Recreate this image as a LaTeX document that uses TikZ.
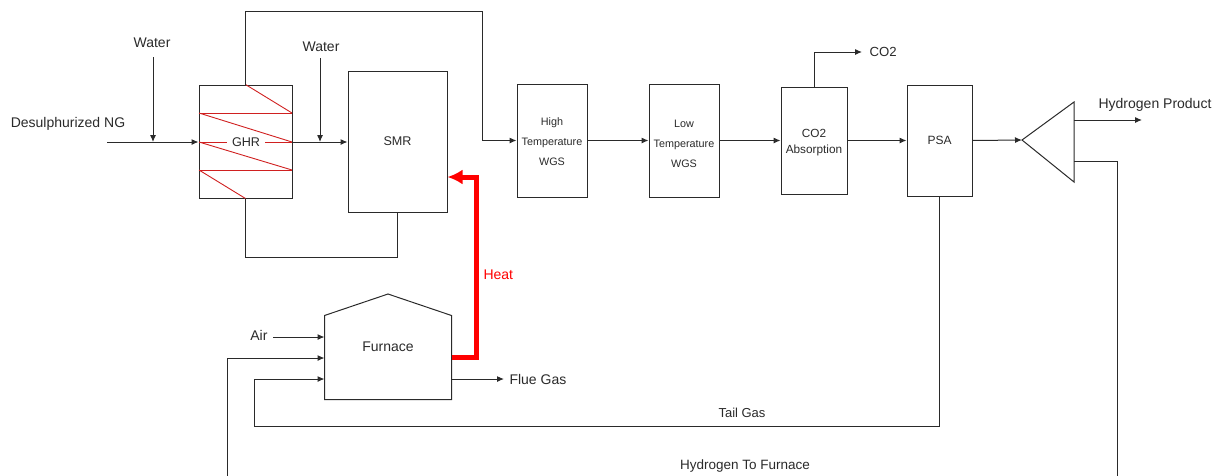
\documentclass[tikz,border=0pt]{standalone}
\usepackage{fontspec}
\setmainfont{Liberation Sans}
\usetikzlibrary{arrows.meta}
\definecolor{ink}{HTML}{2A2A2A}
\definecolor{coil}{HTML}{D02020}
\definecolor{heatred}{HTML}{FF0000}
\begin{document}
\begin{tikzpicture}[x=1pt,y=-1pt,
  line width=1pt,
  unitbox/.style={draw=ink, line width=1pt, inner sep=0pt},
  flow/.style={draw=ink, line width=1pt, -{Latex[length=7pt,width=6pt]}},
  plain/.style={draw=ink, line width=1pt},
  lbl/.style={inner sep=0pt, text=ink, font=\fontsize{14}{16}\selectfont},
  unitlbl/.style={inner sep=0pt, text=ink, font=\fontsize{12.6}{15}\selectfont},
  smalllbl/.style={inner sep=0pt, text=ink, align=center, font=\fontsize{10.8}{20}\selectfont},
  heatflow/.style={draw=heatred, line width=5pt, -{Latex[length=15pt,width=15pt]}},
  coilline/.style={draw=coil, line width=0.9pt}
]
\useasboundingbox (0,0) rectangle (1223,475);
\clip (0,0) rectangle (1223,475);

% units
\node[unitbox, minimum width=93pt, minimum height=113pt] (ghr) at (245.5,141.5) {};
\node[unitbox, minimum width=99pt, minimum height=141pt] (smr) at (397.5,141.5) {};
\node[unitbox, minimum width=70pt, minimum height=113pt] (ht) at (552,140.5) {};
\node[unitbox, minimum width=70pt, minimum height=113pt] (lt) at (684,140.5) {};
\node[unitbox, minimum width=66pt, minimum height=107pt] (co2a) at (814,140.5) {};
\node[unitbox, minimum width=65pt, minimum height=111pt] (psa) at (939.5,140.5) {};
\node[minimum width=126pt, minimum height=83pt, inner sep=0pt] (furn) at (388,357.5) {};
\coordinate (roof) at (388,294);
\draw[plain] (furn.north west) -- (roof) -- (furn.north east) -- (furn.south east) -- (furn.south west) -- cycle;

% splitter
\coordinate (sp) at (1022,140);
\coordinate (spt) at (1074,102);
\coordinate (spb) at (1074,182);
\draw[plain] (sp) -- (spt) -- (spb) -- cycle;
\coordinate (spo1) at (1074,120);
\coordinate (spo2) at (1074,161);

% GHR coil
\draw[coilline] (ghr.north) -- (292,113);
\draw[coilline] (199,113) -- (292,113);
\draw[coilline] (199,113) -- (292,142);
\draw[coilline] (199,142) -- (292,142);
\draw[coilline] (199,142) -- (292,170);
\draw[coilline] (199,170) -- (292,170);
\draw[coilline] (199,170) -- (ghr.south);

% texts inside units
\node[unitlbl, fill=white, inner xsep=5pt, inner ysep=1pt] (ghrlbl) at (246,142) {GHR};
\node[unitlbl] (smrlbl) at (397.5,141) {SMR};
\node[smalllbl] (htlbl) at (552,141.5) {High\\Temperature\\WGS};
\node[smalllbl] (ltlbl) at (684,143.5) {Low\\Temperature\\WGS};
\node[smalllbl, font=\fontsize{11.8}{16}\selectfont] (co2albl) at (814,143) {CO2\\Absorption};
\node[unitlbl, font=\fontsize{12}{14}\selectfont] (psalbl) at (939.5,140) {PSA};
\node[lbl] (furnlbl) at (388,347) {Furnace};

% feed
\coordinate (ngs) at (107,142);
\node[lbl] (nglbl) at (68,124) {Desulphurized NG};
\draw[flow] (ngs) -- (ghr.west |- ngs);
\coordinate (w1s) at (153,57);
\coordinate (w1e) at (153,142);
\node[lbl] (w1lbl) at (152,43) {Water};
\draw[flow] (w1s) -- (w1e);
\draw[flow] (ghr.east |- ngs) -- (smr.west |- ngs);
\coordinate (w2s) at (320,58);
\coordinate (w2e) at (320,142);
\node[lbl] (w2lbl) at (321,47) {Water};
\draw[flow] (w2s) -- (w2e);

% GHR product to HT WGS
\draw[flow] (ghr.north) -- (245.5,11) -- (482,11) -- (482,140.5) -- (ht.west);
% SMR to GHR
\draw[plain] (ghr.south) -- (245.5,257) -| (smr.south);

% train
\draw[flow] (ht.east) -- (lt.west);
\draw[flow] (lt.east) -- (co2a.west);
\draw[flow] (co2a.east) -- (psa.west);
\draw[flow] (psa.east) -- (sp);

% CO2 out
\coordinate (co2e) at (862,52);
\draw[flow] (co2a.north) -- (814,52) -- (co2e);
\node[lbl, font=\fontsize{13.2}{15}\selectfont, anchor=west] (co2lbl) at (869,52) {CO2};

% hydrogen product
\coordinate (h2e) at (1142,120);
\draw[flow] (spo1) -- (h2e);
\node[lbl] (h2lbl) at (1155,105) {Hydrogen Product};

% hydrogen to furnace
\coordinate (hf) at (227,358);
\draw[flow] (spo2) -- (1117,161) -- (1117,495) -- (227,495) -- (hf) -- (hf -| furn.west);
\node[lbl, font=\fontsize{13.5}{15}\selectfont] (hflbl) at (745,466) {Hydrogen To Furnace};

% tail gas
\coordinate (tg) at (254,379);
\draw[flow] (psa.south) -- (939.5,426) -- (254,426) -- (tg) -- (tg -| furn.west);
\node[lbl, font=\fontsize{13}{15}\selectfont] (tglbl) at (742,413) {Tail Gas};

% air
\coordinate (airs) at (273,337);
\draw[flow] (airs) -- (airs -| furn.west);
\node[lbl, anchor=east] (airlbl) at (268,335) {Air};

% flue gas
\coordinate (fgs) at (451,379);
\coordinate (fge) at (504,379);
\draw[flow] (fgs) -- (fge);
\node[lbl, anchor=west] (fglbl) at (509,379) {Flue Gas};

% heat
\coordinate (h1) at (476,357.5);
\coordinate (h2) at (476,177);
\draw[heatflow] (furn.east) -- (h1) -- (h2) -- (h2 -| smr.east);
\node[lbl, text=heatred, anchor=west] (heatlbl) at (483,275) {Heat};
\end{tikzpicture}
\end{document}
